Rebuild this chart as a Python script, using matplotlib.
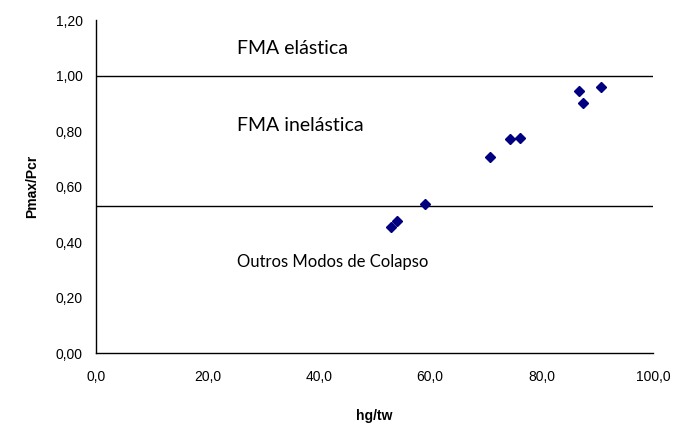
import matplotlib
matplotlib.use("Agg")
import matplotlib.pyplot as plt

# data
hg_tw = [53.0, 54.0, 59.0, 70.8, 74.4, 76.1, 86.8, 87.4, 90.7]
pmax_pcr = [0.453, 0.475, 0.536, 0.708, 0.771, 0.776, 0.944, 0.900, 0.958]
limit_elastic = 1.00
limit_inelastic = 0.53
xticks = [0, 20, 40, 60, 80, 100]
yticks = [0.0, 0.2, 0.4, 0.6, 0.8, 1.0, 1.2]

fig = plt.figure(figsize=(6.87, 4.25), dpi=100)
ax = fig.add_axes([0.1397, 0.1694, 0.8108, 0.7835])

ax.axhline(limit_elastic, color="black", lw=1.0)
ax.axhline(limit_inelastic, color="black", lw=1.0)
ax.plot(hg_tw, pmax_pcr, "D", color="#000080", markersize=5.5, linestyle="none")

ax.set_xlim(0, 100)
ax.set_ylim(0, 1.2)
ax.set_xticks(xticks)
ax.set_yticks(yticks)
ax.set_xticklabels([f"{v:.1f}".replace(".", ",") for v in xticks])
ax.set_yticklabels([f"{v:.2f}".replace(".", ",") for v in yticks])
ax.tick_params(length=0, labelsize=10)
ax.tick_params(axis="x", pad=12)
ax.tick_params(axis="y", pad=9.5)
for lab in ax.get_xticklabels() + ax.get_yticklabels():
    lab.set_family("Liberation Sans")

ax.spines["top"].set_visible(False)
ax.spines["right"].set_visible(False)
ax.spines["left"].set_linewidth(1.0)
ax.spines["bottom"].set_linewidth(1.0)

ax.set_xlabel("hg/tw", fontsize=10, fontweight="bold", family="Liberation Sans", labelpad=18)
ax.set_ylabel("Pmax/Pcr", fontsize=10, fontweight="bold", family="Liberation Sans", labelpad=12)

ax.text(25.3, 1.098, "FMA elástica", fontsize=14, family="Lato", va="center")
ax.text(25.3, 0.819, "FMA inelástica", fontsize=14, family="Lato", va="center")
ax.text(25.3, 0.329, "Outros Modos de Colapso", fontsize=12, family="Lato", va="center")

fig.savefig("out.png", dpi=100)
